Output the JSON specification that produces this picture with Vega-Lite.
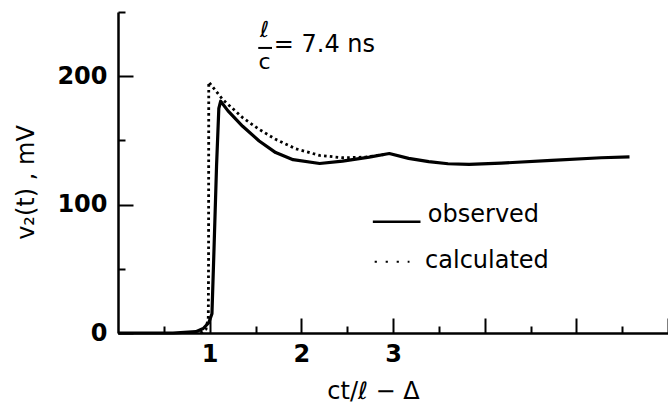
{
  "$schema": "https://vega.github.io/schema/vega-lite/v6.json",
  "width": 550,
  "height": 321,
  "autosize": {"type": "none"},
  "padding": {"left": 118, "top": 12, "right": 0, "bottom": 70},
  "background": "white",
  "config": {
    "view": {"stroke": null},
    "font": "DejaVu Sans",
    "text": {"fontWeight": "normal", "font": "DejaVu Sans", "color": "black"},
    "axis": {
      "domainColor": "black",
      "domainWidth": 2.5,
      "tickColor": "black",
      "tickWidth": 2,
      "grid": false,
      "labelFont": "DejaVu Sans",
      "labelFontWeight": "bold",
      "labelFontSize": 24,
      "labelColor": "black",
      "titleFont": "DejaVu Sans",
      "titleFontWeight": "normal",
      "titleFontSize": 24,
      "titleColor": "black"
    }
  },
  "datasets": {
    "curves": [
      {"x": 0.0, "v": 0, "series": "observed"},
      {"x": 0.6, "v": 0, "series": "observed"},
      {"x": 0.85, "v": 1, "series": "observed"},
      {"x": 0.93, "v": 3.5, "series": "observed"},
      {"x": 0.99, "v": 8, "series": "observed"},
      {"x": 1.025, "v": 15, "series": "observed"},
      {"x": 1.045, "v": 60, "series": "observed"},
      {"x": 1.075, "v": 130, "series": "observed"},
      {"x": 1.1, "v": 175, "series": "observed"},
      {"x": 1.12, "v": 180.5, "series": "observed"},
      {"x": 1.2, "v": 173, "series": "observed"},
      {"x": 1.36, "v": 161, "series": "observed"},
      {"x": 1.54, "v": 149.5, "series": "observed"},
      {"x": 1.72, "v": 140.5, "series": "observed"},
      {"x": 1.91, "v": 135, "series": "observed"},
      {"x": 2.2, "v": 132, "series": "observed"},
      {"x": 2.45, "v": 133.8, "series": "observed"},
      {"x": 2.74, "v": 137, "series": "observed"},
      {"x": 2.96, "v": 139.8, "series": "observed"},
      {"x": 3.17, "v": 136, "series": "observed"},
      {"x": 3.39, "v": 133.5, "series": "observed"},
      {"x": 3.6, "v": 131.8, "series": "observed"},
      {"x": 3.83, "v": 131.3, "series": "observed"},
      {"x": 4.18, "v": 132.3, "series": "observed"},
      {"x": 4.73, "v": 134.5, "series": "observed"},
      {"x": 5.27, "v": 136.5, "series": "observed"},
      {"x": 5.58, "v": 137.2, "series": "observed"},
      {"x": 0.9, "v": 0, "series": "calculated"},
      {"x": 0.96, "v": 3, "series": "calculated"},
      {"x": 0.985, "v": 12, "series": "calculated"},
      {"x": 0.988, "v": 60, "series": "calculated"},
      {"x": 0.99, "v": 195.5, "series": "calculated"},
      {"x": 1.14, "v": 182, "series": "calculated"},
      {"x": 1.36, "v": 167.7, "series": "calculated"},
      {"x": 1.54, "v": 158.6, "series": "calculated"},
      {"x": 1.72, "v": 150.8, "series": "calculated"},
      {"x": 1.94, "v": 143.5, "series": "calculated"},
      {"x": 2.2, "v": 138.3, "series": "calculated"},
      {"x": 2.45, "v": 136.5, "series": "calculated"},
      {"x": 2.7, "v": 137, "series": "calculated"},
      {"x": 2.9, "v": 139, "series": "calculated"}
    ]
  },
  "layer": [
    {
      "data": {"name": "curves"},
      "transform": [{"filter": "datum.series === 'observed'"}],
      "mark": {"type": "line", "color": "black", "strokeWidth": 3.2, "strokeJoin": "round"},
      "encoding": {
        "x": {
          "field": "x",
          "type": "quantitative",
          "scale": {"domain": [0, 6], "nice": false, "zero": false},
          "axis": {
            "values": [0.5, 1, 1.5, 2, 2.5, 3, 3.5, 4, 4.5, 5, 5.5, 6],
            "tickSize": {"condition": {"test": "datum.value % 1 === 0", "value": -15}, "value": -7},
            "labelExpr": "datum.value <= 3 && datum.value % 1 === 0 ? format(datum.value, 'd') : ''",
            "labelPadding": 24,
            "labelBaseline": "top",
            "title": "ct/ℓ − Δ",
            "titleX": 255,
            "titleY": 65,
            "titleAnchor": null,
            "titleBaseline": "alphabetic"
          }
        },
        "y": {
          "field": "v",
          "type": "quantitative",
          "scale": {"domain": [0, 250], "nice": false},
          "axis": {
            "values": [0, 50, 100, 150, 200, 250],
            "tickSize": {"condition": {"test": "datum.value % 100 === 0", "value": -15}, "value": -7},
            "labelExpr": "datum.value % 100 === 0 ? datum.label : ''",
            "labelPadding": 26,
            "title": "v₂(t) , mV",
            "titleX": -92,
            "titleY": 170,
            "titleAngle": -90,
            "titleAlign": "center",
            "titleBaseline": "middle"
          }
        }
      }
    },
    {
      "data": {"name": "curves"},
      "transform": [{"filter": "datum.series === 'calculated'"}],
      "mark": {"type": "line", "color": "black", "strokeWidth": 2.8, "strokeDash": [2.6, 3.2], "strokeCap": "butt"},
      "encoding": {
        "x": {"field": "x", "type": "quantitative"},
        "y": {"field": "v", "type": "quantitative"}
      }
    },
    {
      "data": {"values": [{"label": "ℓ"}]},
      "mark": {"type": "text", "fontSize": 22, "align": "center", "baseline": "middle"},
      "encoding": {"text": {"field": "label"}, "x": {"datum": 1.6}, "y": {"datum": 236}}
    },
    {
      "data": {"values": [{"label": "fraction bar"}]},
      "mark": {"type": "rule", "color": "black", "strokeWidth": 2},
      "encoding": {"x": {"datum": 1.53}, "x2": {"datum": 1.68}, "y": {"datum": 222}}
    },
    {
      "data": {"values": [{"label": "c"}]},
      "mark": {"type": "text", "fontSize": 22, "align": "center", "baseline": "middle"},
      "encoding": {"text": {"field": "label"}, "x": {"datum": 1.6}, "y": {"datum": 211}}
    },
    {
      "data": {"values": [{"label": "= 7.4  ns"}]},
      "mark": {"type": "text", "fontSize": 24, "align": "left", "baseline": "middle"},
      "encoding": {"text": {"field": "label"}, "x": {"datum": 1.7}, "y": {"datum": 224}}
    },
    {
      "data": {"values": [{"label": "observed key"}]},
      "mark": {"type": "rule", "color": "black", "strokeWidth": 2.5},
      "encoding": {"x": {"datum": 2.78}, "x2": {"datum": 3.3}, "y": {"datum": 86.7}}
    },
    {
      "data": {"values": [{"label": "observed"}]},
      "mark": {"type": "text", "fontSize": 24, "align": "left", "baseline": "middle"},
      "encoding": {"text": {"field": "label"}, "x": {"datum": 3.38}, "y": {"datum": 92}}
    },
    {
      "data": {"values": [{"label": "calculated key"}]},
      "mark": {"type": "rule", "color": "black", "strokeWidth": 2.2, "strokeDash": [2.2, 8.8]},
      "encoding": {"x": {"datum": 2.8}, "x2": {"datum": 3.18}, "y": {"datum": 55.5}}
    },
    {
      "data": {"values": [{"label": "calculated"}]},
      "mark": {"type": "text", "fontSize": 24, "align": "left", "baseline": "middle"},
      "encoding": {"text": {"field": "label"}, "x": {"datum": 3.35}, "y": {"datum": 56}}
    }
  ]
}
